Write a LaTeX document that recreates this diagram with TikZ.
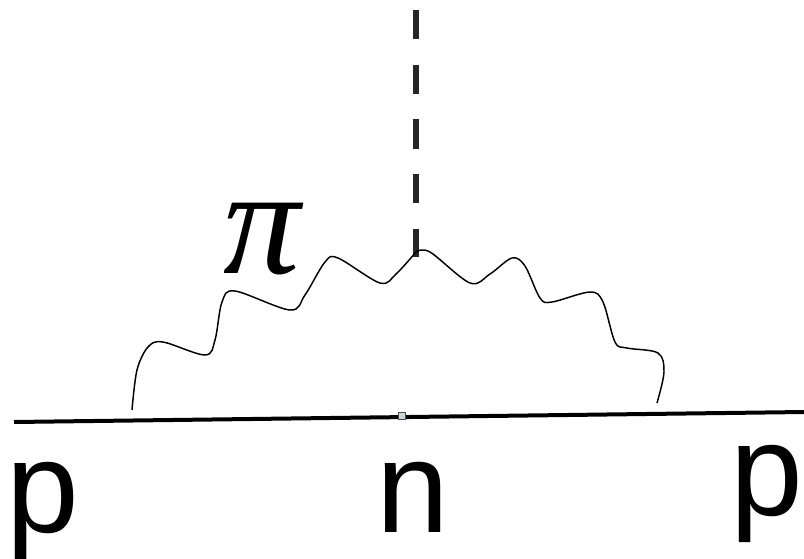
\documentclass[tikz,border=0pt]{standalone}
\usepackage{fontspec}
\setmainfont{Liberation Sans}
\newfontfamily\pifont{Liberation Serif}
\begin{document}
\begin{tikzpicture}[x=0.75pt,y=-0.75pt,
  lbl/.style={inner sep=0pt,font=\fontsize{98}{98}\selectfont},
  fermion/.style={line width=3pt,black},
  pion/.style={line width=1.1pt,black,line join=round},
  scalar/.style={line width=4.5pt,black!85,dash pattern=on 22pt off 19pt}]
\useasboundingbox[fill=white] (0,0) rectangle (804,558);
\coordinate (L) at (14,422);
\coordinate (R) at (804,412);
\coordinate (top) at (416,10);
\coordinate (v) at (416,257);
\draw[fermion] (L) -- (R);
\draw[scalar] (top) -- (v);
\draw[pion] plot[smooth,tension=0.55] coordinates {(132,410) (137,370) (148,347) (163,342) (205,355) (215,340) (222,302) (235,291) (290,310) (305,295) (325,262) (338,258) (380,283) (396,274) (416,252)};
\draw[pion] plot[smooth,tension=0.55] coordinates {(416,252) (430,252) (470,283) (490,274) (512,258) (525,266) (540,298) (552,302) (590,292) (603,302) (615,342) (627,348) (658,353) (664,372) (657,403)};
\node[draw=black!70,fill=cyan!15!gray!40,line width=0.8pt,minimum size=5pt,inner sep=0pt] (sq) at (402,416) {};
\node[inner sep=0pt,font=\pifont\itshape\fontsize{115}{115}\selectfont,anchor=base] (pi) at (262,273) {π};
\node[lbl,anchor=base west] (p1) at (6,532) {p};
\node[lbl,anchor=base] (n) at (413,532) {n};
\node[lbl,anchor=base west] (p2) at (730,515) {p};
\end{tikzpicture}
\end{document}
